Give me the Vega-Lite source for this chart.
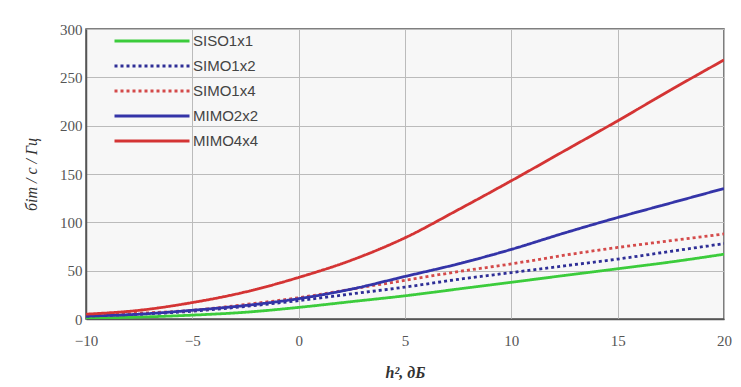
{
  "$schema": "https://vega.github.io/schema/vega-lite/v6.json",
  "width": 638,
  "height": 290,
  "autosize": "none",
  "padding": {"left": 86, "top": 29, "right": 17, "bottom": 68},
  "background": "#ffffff",
  "config": {
    "view": {"fill": "#f7f7f7", "stroke": "#555555", "strokeWidth": 1.5},
    "axis": {
      "labelFont": "Liberation Serif",
      "labelFontSize": 15,
      "labelColor": "#555555",
      "titleFont": "Liberation Serif",
      "titleFontSize": 16,
      "titleColor": "#333333",
      "titleFontWeight": "normal",
      "gridColor": "#bbbbbb",
      "gridWidth": 1,
      "ticks": false,
      "domainColor": "#555555",
      "domainWidth": 1.5
    }
  },
  "data": {
    "values": [
      {"x": -10, "y": 1, "s": "SISO1x1"}, {"x": -7.5, "y": 2, "s": "SISO1x1"}, {"x": -5, "y": 4, "s": "SISO1x1"}, {"x": -2.5, "y": 7, "s": "SISO1x1"}, {"x": 0, "y": 12, "s": "SISO1x1"}, {"x": 2.5, "y": 18, "s": "SISO1x1"}, {"x": 5, "y": 24, "s": "SISO1x1"}, {"x": 7.5, "y": 31, "s": "SISO1x1"}, {"x": 10, "y": 38, "s": "SISO1x1"}, {"x": 12.5, "y": 45, "s": "SISO1x1"}, {"x": 15, "y": 52, "s": "SISO1x1"}, {"x": 17.5, "y": 59, "s": "SISO1x1"}, {"x": 20, "y": 67, "s": "SISO1x1"},
      {"x": -10, "y": 3, "s": "SIMO1x2"}, {"x": -7.5, "y": 5, "s": "SIMO1x2"}, {"x": -5, "y": 8, "s": "SIMO1x2"}, {"x": -2.5, "y": 13, "s": "SIMO1x2"}, {"x": 0, "y": 19, "s": "SIMO1x2"}, {"x": 2.5, "y": 26, "s": "SIMO1x2"}, {"x": 5, "y": 33, "s": "SIMO1x2"}, {"x": 7.5, "y": 41, "s": "SIMO1x2"}, {"x": 10, "y": 48, "s": "SIMO1x2"}, {"x": 12.5, "y": 55, "s": "SIMO1x2"}, {"x": 15, "y": 62, "s": "SIMO1x2"}, {"x": 17.5, "y": 70, "s": "SIMO1x2"}, {"x": 20, "y": 78, "s": "SIMO1x2"},
      {"x": -10, "y": 4, "s": "SIMO1x4"}, {"x": -7.5, "y": 6, "s": "SIMO1x4"}, {"x": -5, "y": 9, "s": "SIMO1x4"}, {"x": -2.5, "y": 15, "s": "SIMO1x4"}, {"x": 0, "y": 22, "s": "SIMO1x4"}, {"x": 2.5, "y": 31, "s": "SIMO1x4"}, {"x": 5, "y": 40, "s": "SIMO1x4"}, {"x": 7.5, "y": 49, "s": "SIMO1x4"}, {"x": 10, "y": 57, "s": "SIMO1x4"}, {"x": 12.5, "y": 66, "s": "SIMO1x4"}, {"x": 15, "y": 74, "s": "SIMO1x4"}, {"x": 17.5, "y": 81, "s": "SIMO1x4"}, {"x": 20, "y": 88, "s": "SIMO1x4"},
      {"x": -10, "y": 3, "s": "MIMO2x2"}, {"x": -7.5, "y": 5, "s": "MIMO2x2"}, {"x": -5, "y": 9, "s": "MIMO2x2"}, {"x": -2.5, "y": 14, "s": "MIMO2x2"}, {"x": 0, "y": 21, "s": "MIMO2x2"}, {"x": 2.5, "y": 31, "s": "MIMO2x2"}, {"x": 5, "y": 44, "s": "MIMO2x2"}, {"x": 7.5, "y": 57, "s": "MIMO2x2"}, {"x": 10, "y": 72, "s": "MIMO2x2"}, {"x": 12.5, "y": 89, "s": "MIMO2x2"}, {"x": 15, "y": 105, "s": "MIMO2x2"}, {"x": 17.5, "y": 120, "s": "MIMO2x2"}, {"x": 20, "y": 135, "s": "MIMO2x2"},
      {"x": -10, "y": 5, "s": "MIMO4x4"}, {"x": -7.5, "y": 9, "s": "MIMO4x4"}, {"x": -5, "y": 17, "s": "MIMO4x4"}, {"x": -2.5, "y": 28, "s": "MIMO4x4"}, {"x": 0, "y": 43, "s": "MIMO4x4"}, {"x": 2.5, "y": 61, "s": "MIMO4x4"}, {"x": 5, "y": 84, "s": "MIMO4x4"}, {"x": 7.5, "y": 113, "s": "MIMO4x4"}, {"x": 10, "y": 143, "s": "MIMO4x4"}, {"x": 12.5, "y": 174, "s": "MIMO4x4"}, {"x": 15, "y": 205, "s": "MIMO4x4"}, {"x": 17.5, "y": 237, "s": "MIMO4x4"}, {"x": 20, "y": 268, "s": "MIMO4x4"}
    ]
  },
  "mark": {"type": "line", "strokeWidth": 2.8, "interpolate": "monotone", "clip": true},
  "encoding": {
    "x": {
      "field": "x", "type": "quantitative",
      "scale": {"domain": [-10, 20], "nice": false, "zero": false},
      "axis": {"values": [-10, -5, 0, 5, 10, 15, 20], "labelPadding": 14, "title": "h², дБ", "titlePadding": 16, "titleFontStyle": "italic", "titleFontWeight": "bold", "labelFlush": false}
    },
    "y": {
      "field": "y", "type": "quantitative",
      "scale": {"domain": [0, 300], "nice": false},
      "axis": {"values": [0, 50, 100, 150, 200, 250, 300], "labelPadding": 4, "title": "біт / с / Гц", "titleFontStyle": "italic", "titlePadding": 20}
    },
    "color": {
      "field": "s", "type": "nominal",
      "scale": {
        "domain": ["SISO1x1", "SIMO1x2", "SIMO1x4", "MIMO2x2", "MIMO4x4"],
        "range": ["#3ccc3c", "#2e2e96", "#d44a4a", "#3434a8", "#d43434"]
      },
      "legend": {
        "orient": "none", "legendX": 87, "legendY": 3,
        "title": null,
        "symbolType": "M-9,0H1",
        "symbolSize": 225,
        "symbolStrokeWidth": 3,
        "labelFont": "Liberation Sans",
        "labelFontSize": 15,
        "labelColor": "#444444",
        "labelOffset": 2,
        "rowPadding": 8
      }
    },
    "strokeDash": {
      "field": "s", "type": "nominal",
      "scale": {
        "domain": ["SISO1x1", "SIMO1x2", "SIMO1x4", "MIMO2x2", "MIMO4x4"],
        "range": [[1, 0], [3, 3], [3, 3], [1, 0], [1, 0]]
      },
      "legend": null
    }
  }
}
